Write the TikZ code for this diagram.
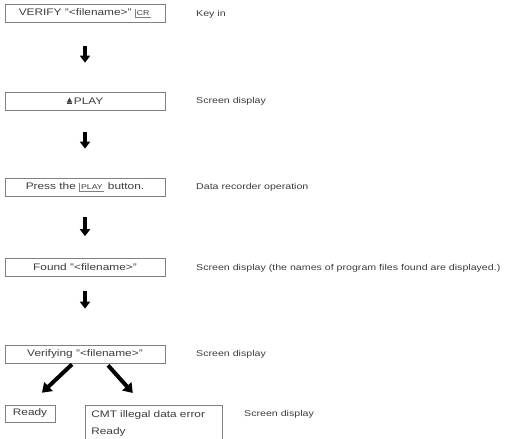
\documentclass[tikz,border=0pt]{standalone}
\usepackage{fontspec}
\setmainfont{Liberation Sans}[FakeStretch=1.25]
\usetikzlibrary{arrows.meta,calc}
\definecolor{inkgray}{HTML}{3C3C3C}
\definecolor{rulegray}{HTML}{808080}
% key on the keyboard / recorder: bar at left, line below
\newcommand{\keycap}[1]{\tikz[baseline=(k.base)]{\node[draw=none,minimum width=0pt,minimum height=0pt,inner sep=1.4pt,font=\fontsize{7}{8}\selectfont] (k) {#1}; \draw[rulegray,line width=0.5pt] (k.north west) -- (k.south west) -- (k.south east);}}
% play mark: triangle over a bar
\newcommand{\playmark}{\tikz[baseline=0pt]{\fill[inkgray] (0,1.6pt) -- (5.6pt,1.6pt) -- (2.8pt,6.6pt) -- cycle; \fill[inkgray] (0,0) rectangle (5.6pt,0.9pt);}}
\tikzset{
  box/.style={draw=rulegray,line width=0.6pt,minimum width=160pt,minimum height=18pt,inner sep=2pt,text=inkgray,font=\fontsize{9.5}{11}\selectfont},
  note/.style={anchor=west,inner sep=0pt,text=inkgray,font=\fontsize{8.5}{10}\selectfont},
  flowarrow/.style={line width=3.2pt,-{Triangle[width=10pt,length=7pt]}},
  splitarrow/.style={line width=4pt,-{Triangle[width=12pt,length=9pt]}}
}
\begin{document}
\begin{tikzpicture}[x=1pt,y=1pt]
    \useasboundingbox (0,0) rectangle (522,-439);
    % steps
    \node[box] (verify) at (85,-13.5) {VERIFY ''<filename>''\ \keycap{CR}};
    \node[note] (keyin) at (196,-14) {Key in};
    \node[box] (play) at (85,-101) {\playmark\,PLAY};
    \node[note] (disp1) at (196,-101) {Screen display};
    \node[box] (press) at (85,-187) {Press the \keycap{PLAY}\ button.};
    \node[note] (recop) at (196,-187) {Data recorder operation};
    \node[box] (found) at (85,-267.5) {Found ''<filename>''};
    \node[note] (disp2) at (196,-268) {Screen display (the names of program files found are displayed.)};
    \node[box] (verifying) at (85,-354) {Verifying ''<filename>''};
    \node[note] (disp3) at (196,-354) {Screen display};
    % results
    \node[box,minimum width=50pt,minimum height=17pt] (ready) at (30,-413.5) {Ready};
    \node[box,minimum width=137pt,minimum height=40pt,anchor=north west,inner xsep=6pt,inner ysep=4pt,
          text width=125pt,align=left,font=\fontsize{9.5}{17}\selectfont] (cmt) at (85,-405)
        {CMT illegal data error\\Ready\strut};
    \node[note] (disp4) at (244,-414) {Screen display};
    % arrows
    \draw[flowarrow,shorten <=23pt,shorten >=29pt] (verify) -- (play);
    \draw[flowarrow,shorten <=22pt,shorten >=29pt] (play) -- (press);
    \draw[flowarrow,shorten <=21pt,shorten >=22pt] (press) -- (found);
    \draw[flowarrow,shorten <=14pt,shorten >=36pt] (found) -- (verifying);
    \draw[splitarrow] ([xshift=-13pt,yshift=-1pt]verifying.south) -- ([xshift=12pt,yshift=12pt]ready.north);
    \draw[splitarrow] ([xshift=23pt,yshift=-2pt]verifying.south) -- ([xshift=-21pt,yshift=12pt]cmt.north);
\end{tikzpicture}
\end{document}
